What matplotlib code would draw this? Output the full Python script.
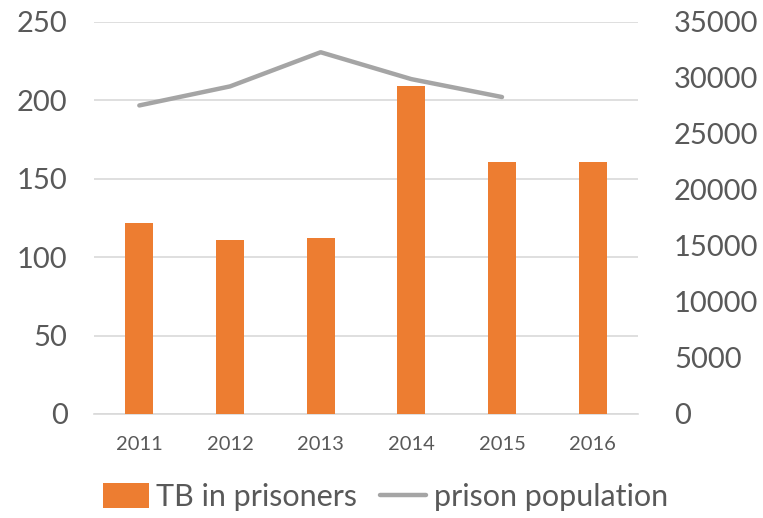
import matplotlib.pyplot as plt
import numpy as np

years = ['2011', '2012', '2013', '2014', '2015', '2016']
tb_prisoners = [122, 111, 112, 209, 161, 161]
prison_population = [27550, 29250, 32300, 29900, 28300]

plt.rcParams['font.family'] = ['Lato', 'DejaVu Sans']
txt = '#595959'

fig = plt.figure(figsize=(7.63, 5.18), dpi=100)
ax = fig.add_axes([94/763, 1-414/518, 544/763, 392/518])
x = np.arange(len(years))

ax.bar(x, tb_prisoners, width=0.31, color='#ED7D31', label='TB in prisoners', zorder=3)
ax.set_ylim(0, 250)
ax.set_yticks(range(0, 251, 50))
ax.set_xlim(-0.5, 5.5)
ax.set_xticks(x)
ax.set_xticklabels(years)
ax.grid(axis='y', color='#D9D9D9', lw=1.2, zorder=0)
for s in ['top', 'left', 'right']:
    ax.spines[s].set_visible(False)
ax.spines['bottom'].set_color('#D9D9D9')
ax.spines['bottom'].set_linewidth(1.2)
ax.tick_params(axis='y', length=0, labelsize=21, colors=txt, pad=19)
ax.tick_params(axis='x', length=0, labelsize=14.5, colors=txt, pad=16)

ax2 = ax.twinx()
ax2.plot(x[:len(prison_population)], prison_population, color='#A5A5A5', lw=3.2,
         solid_capstyle='round', label='prison population', zorder=4)
ax2.set_ylim(0, 35000)
ax2.set_yticks(range(0, 35001, 5000))
for s in ['top', 'left', 'right', 'bottom']:
    ax2.spines[s].set_visible(False)
ax2.tick_params(axis='y', length=0, labelsize=21, colors=txt, pad=26)

h1, l1 = ax.get_legend_handles_labels()
h2, l2 = ax2.get_legend_handles_labels()
leg = fig.legend(h1 + h2, l1 + l2, loc='lower center', bbox_to_anchor=(0.505, -0.04),
                 ncol=2, frameon=False, fontsize=22, handlelength=1.5, handleheight=0.85,
                 columnspacing=0.75, handletextpad=0.25)
for t in leg.get_texts():
    t.set_color(txt)

plt.savefig('out.png', dpi=100)
